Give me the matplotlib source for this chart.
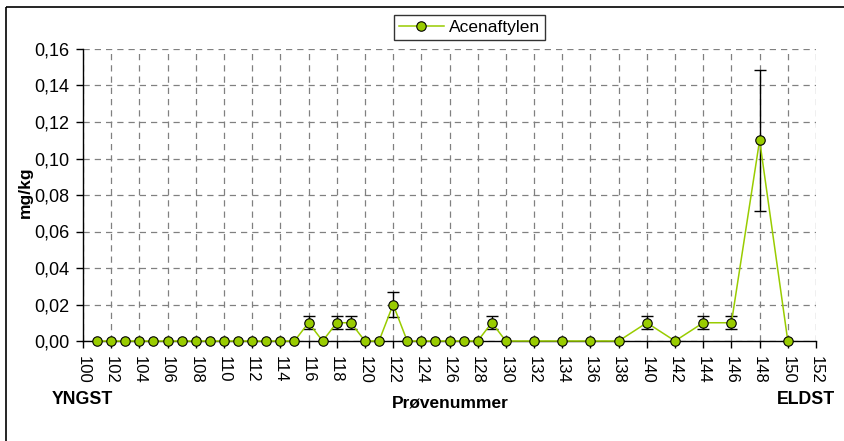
import matplotlib
matplotlib.use("Agg")
import matplotlib.pyplot as plt
from matplotlib.patches import Rectangle
from matplotlib.ticker import FuncFormatter

plt.rcParams['font.family'] = ['Liberation Sans', 'DejaVu Sans']

# Data
sample_no = list(range(101, 131)) + [132, 134, 136, 138, 140, 142, 144, 146, 148, 150]
values = [0, 0, 0, 0, 0, 0, 0, 0, 0, 0,              # 101-110
          0, 0, 0, 0, 0, 0.01, 0, 0.01, 0.01, 0,     # 111-120
          0, 0.02, 0, 0, 0, 0, 0, 0, 0.01, 0,        # 121-130
          0, 0, 0, 0, 0.01, 0, 0.01, 0.01, 0.11, 0]  # 132-150
errors = [0, 0, 0, 0, 0, 0, 0, 0, 0, 0,
          0, 0, 0, 0, 0, 0.0036, 0, 0.0036, 0.0036, 0,
          0, 0.007, 0, 0, 0, 0, 0, 0, 0.0036, 0,
          0, 0, 0, 0, 0.0036, 0, 0.0036, 0.0036, 0.0385, 0]
series_name = "Acenaftylen"
x_ticks = list(range(100, 153, 2))
y_ticks = [0.0, 0.02, 0.04, 0.06, 0.08, 0.10, 0.12, 0.14, 0.16]

W, H = 844, 441
fig = plt.figure(figsize=(W / 100, H / 100), dpi=100)
fig.patch.set_facecolor('white')

# outer frame
fig.patches.append(Rectangle((6 / W, 1 - 7 / H), 1.2, -1.2, transform=fig.transFigure,
                             fill=False, edgecolor='black', linewidth=1.2, zorder=0))

left, right, top, bottom = 83, 816, 49, 341
ax = fig.add_axes([left / W, 1 - bottom / H, (right - left) / W, (bottom - top) / H])

green = '#99CC00'
ax.plot(sample_no, values, color=green, lw=1.1, marker='o', markersize=6.8,
        markerfacecolor=green, markeredgecolor='black', markeredgewidth=0.8,
        label=series_name, zorder=4, clip_on=False)

ex = [x for x, e in zip(sample_no, errors) if e > 0]
ey = [v for v, e in zip(values, errors) if e > 0]
ee = [e for e in errors if e > 0]
ax.errorbar(ex, ey, yerr=ee, fmt='none', ecolor='black', elinewidth=1,
            capsize=4.5, capthick=1, zorder=3)

ax.set_xlim(100, 152)
ax.set_ylim(0, 0.16)
ax.set_xticks(x_ticks)
ax.set_yticks(y_ticks)
ax.yaxis.set_major_formatter(FuncFormatter(lambda v, p: f"{v:.2f}".replace('.', ',')))
ax.tick_params(axis='x', direction='out', length=5, width=1, labelsize=12,
               labelrotation=-90, pad=6)
ax.tick_params(axis='y', direction='out', length=5, width=1, labelsize=13, pad=5)
for lab in ax.get_xticklabels():
    lab.set_va('top')
    lab.set_ha('center')

ax.grid(True, color='#808080', linestyle=(0, (5, 4)), linewidth=0.9)
ax.set_axisbelow(True)
for s in ['top', 'right']:
    ax.spines[s].set_visible(False)
ax.spines['left'].set_linewidth(1)
ax.spines['bottom'].set_linewidth(1)

fig.text(25 / W, 1 - 192 / H, 'mg/kg', rotation=90, fontsize=12.5, fontweight='bold',
         ha='center', va='center')
fig.text(82 / W, 1 - 400 / H, 'YNGST', fontsize=12.8, fontweight='bold', ha='center', va='center')
fig.text(450 / W, 1 - 403 / H, 'Prøvenummer', fontsize=12.5, fontweight='bold', ha='center', va='center')
fig.text(806 / W, 1 - 400 / H, 'ELDST', fontsize=12.8, fontweight='bold', ha='center', va='center')

leg = ax.legend(loc='center', bbox_to_anchor=(469.5 / W, 1 - 27.5 / H),
                bbox_transform=fig.transFigure, frameon=True, fancybox=False,
                edgecolor='black', fontsize=12.5, handlelength=2.6, borderpad=0.3,
                handletextpad=0.3, borderaxespad=0)
leg.get_frame().set_linewidth(1)

fig.savefig('out.png', dpi=100, facecolor='white')
